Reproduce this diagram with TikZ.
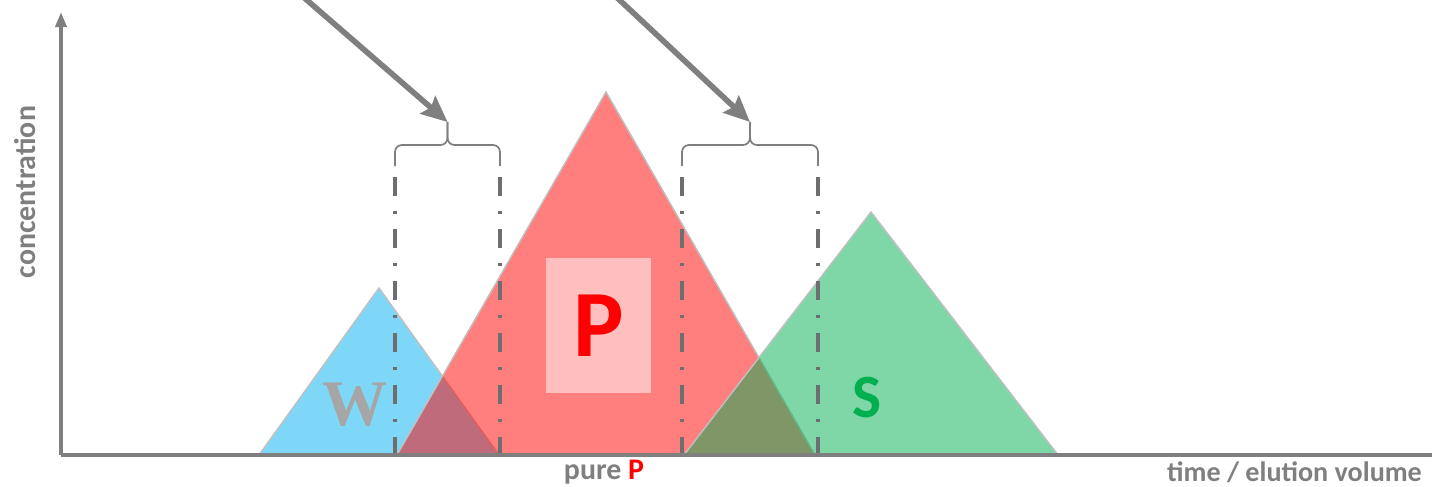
\documentclass[tikz,border=0pt]{standalone}
\usepackage{fontspec}
\setmainfont{Carlito}
\newfontfamily\serifw{Liberation Serif}
\usetikzlibrary{arrows.meta}

\definecolor{wblue}{HTML}{00B0F0}
\definecolor{pred}{HTML}{FF0000}
\definecolor{sgreen}{HTML}{00B050}
\definecolor{axisgray}{HTML}{7F7F7F}
\definecolor{cutgray}{HTML}{6E6E6E}
\definecolor{edgegray}{HTML}{BFBFBF}
\definecolor{wgray}{HTML}{A6A6A6}

\tikzset{
  peak/.style={draw=edgegray, line width=0.8pt, fill opacity=0.5},
  cut/.style={cutgray, line width=2.3pt,
    dash pattern=on 0.38cm off 0.29cm on 0.07cm off 0.3cm},
  fraction/.style={axisgray, line width=1pt, rounded corners=0.14cm},
  pointer/.style={axisgray, line width=3.2pt,
    -{Stealth[length=0.52cm, width=0.46cm, inset=0.08cm]}},
  axislabel/.style={axisgray, font=\fontsize{17}{20}\selectfont\bfseries}
}

\begin{document}
\begin{tikzpicture}[scale=1.0]

\useasboundingbox (-1.22,-0.62) rectangle (27.42,9.1);

% peaks
\draw[peak, fill=wblue] (3.96,0) -- (6.36,3.34) -- (8.76,0) -- cycle;
\draw[peak, fill=pred] (6.72,0) -- (10.9,7.26) -- (15.08,0) -- cycle;
\draw[peak, fill=sgreen] (12.46,0) -- (16.2,4.86) -- (19.94,0) -- cycle;

% peak labels
\node[fill=white, fill opacity=0.5, text opacity=1, minimum width=2.1cm,
  minimum height=2.7cm, inner sep=0pt, text=pred,
  font=\fontsize{54}{54}\selectfont\bfseries] (labP) at (10.75,2.59) {P};
\node[text=wgray, font=\serifw\fontsize{37}{37}\selectfont\bfseries]
  (labW) at (5.88,1.0) {W};
\node[text=sgreen, font=\fontsize{35}{35}\selectfont\bfseries]
  (labS) at (16.12,1.14) {S};

% cut points
\foreach \x/\n in {6.68/a,8.78/b,12.42/c,15.14/d}
{
    \coordinate (top\n) at (\x,5.56);
    \coordinate (bot\n) at (\x,0);
    \draw[cut] (top\n) -- (bot\n);
}

% axes
\coordinate (orig) at (0,0);
\coordinate (yend) at (0,8.86);
\coordinate (xend) at (27.6,0);
\draw[axisgray, line width=2pt] (orig) -- (xend);
\draw[axisgray, line width=2pt, -{Triangle[length=0.3cm, width=0.22cm]}] (orig) -- (yend);
\node[axislabel, rotate=90] (ylab) at (-0.72,5.26) {concentration};
\node[axislabel, anchor=west, font=\fontsize{16}{20}\selectfont\bfseries]
  (xlab) at (22.0,-0.34) {time / elution volume};
\node[axislabel] (pure) at (10.86,-0.34) {pure \textcolor{pred}{P}};

% side fractions
\coordinate (tipA) at (7.73,6.66);
\coordinate (tipB) at (13.78,6.66);
\draw[fraction] (6.68,5.78) -- (6.68,6.2) -- (7.73,6.2) -- (tipA);
\draw[fraction] (8.78,5.78) -- (8.78,6.2) -- (7.73,6.2) -- (tipA);
\draw[fraction] (12.42,5.78) -- (12.42,6.2) -- (13.78,6.2) -- (tipB);
\draw[fraction] (15.14,5.78) -- (15.14,6.2) -- (13.78,6.2) -- (tipB);
\coordinate (srcA) at (4.5,9.46);
\coordinate (srcB) at (10.85,9.4);
\draw[pointer] (srcA) -- (tipA);
\draw[pointer] (srcB) -- (tipB);

\end{tikzpicture}
\end{document}
